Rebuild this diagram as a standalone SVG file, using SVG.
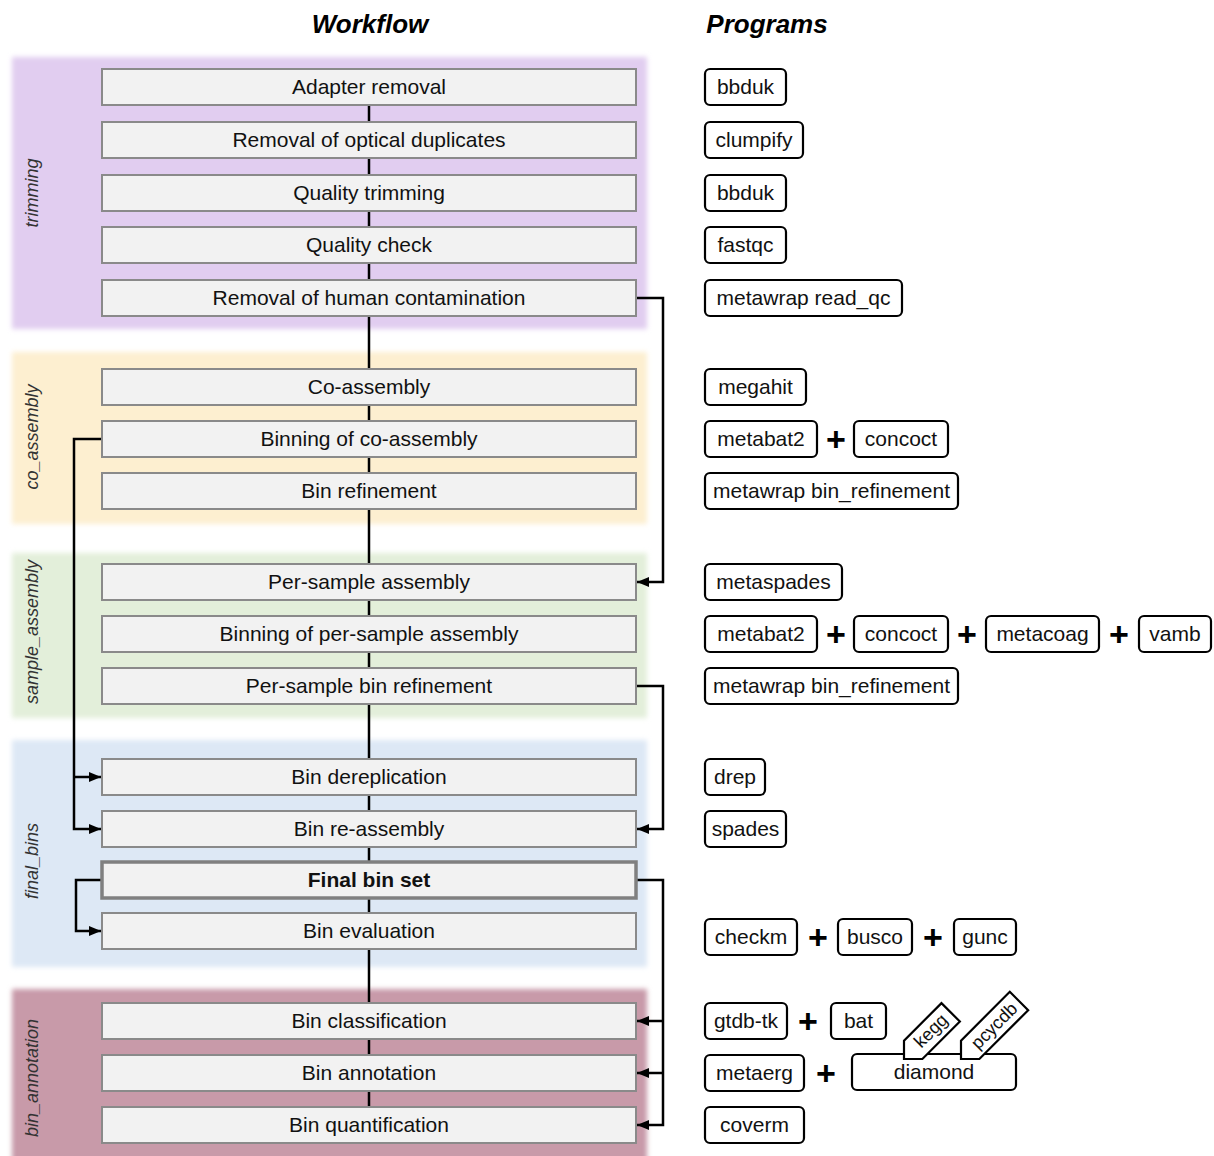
<svg xmlns="http://www.w3.org/2000/svg" width="1214" height="1156" viewBox="0 0 1214 1156">
<style>
.title{font-family:"Liberation Sans",Arial,sans-serif;font-size:26px;font-weight:bold;font-style:italic;fill:#000}
.band-label{font-family:"Liberation Sans",Arial,sans-serif;font-size:18px;font-style:italic;fill:#333;text-anchor:middle}
.step rect{fill:#f2f2f2;stroke:#8a8a8a;stroke-width:2}
.step text{font-family:"Liberation Sans",Arial,sans-serif;font-size:21px;fill:#111;text-anchor:middle}
.final rect{stroke:#808080;stroke-width:3.5}
.final text{font-weight:bold}
.prog rect,.tag path{fill:#fff;stroke:#000;stroke-width:2.2}
.prog text,.tag text{font-family:"Liberation Sans",Arial,sans-serif;font-size:21px;fill:#111;text-anchor:middle}
.tag text{font-size:18px}
.plus{font-family:"Liberation Sans",Arial,sans-serif;font-size:34px;font-weight:bold;fill:#000;text-anchor:middle}
.conn{fill:none;stroke:#000;stroke-width:2.5}
</style>
<defs>
<filter id="soft" x="-5%" y="-5%" width="110%" height="110%"><feGaussianBlur stdDeviation="2.5"/></filter>
<marker id="arr" markerUnits="userSpaceOnUse" markerWidth="13" markerHeight="11" refX="12" refY="5" orient="auto"><path d="M0,0 L12,5 L0,10 Z" fill="#000"/></marker>
</defs>
<rect width="1214" height="1156" fill="#fff"/>
<text class="title" x="370" y="33" text-anchor="middle">Workflow</text>
<text class="title" x="767" y="33" text-anchor="middle">Programs</text>
<g id="bands" filter="url(#soft)">
<rect x="12" y="57" width="635" height="272" fill="#e1cdf0"/>
<rect x="12" y="352" width="635" height="172" fill="#fdefd0"/>
<rect x="12" y="553" width="635" height="165" fill="#e3efda"/>
<rect x="12" y="740" width="635" height="227" fill="#dde8f5"/>
<rect x="12" y="989" width="635" height="175" fill="#c89aa9"/>
</g>
<g id="band-labels">
<text class="band-label" transform="translate(38,193) rotate(-90)">trimming</text>
<text class="band-label" transform="translate(38,437) rotate(-90)">co_assembly</text>
<text class="band-label" transform="translate(38,632) rotate(-90)">sample_assembly</text>
<text class="band-label" transform="translate(38,861) rotate(-90)">final_bins</text>
<text class="band-label" transform="translate(38,1078) rotate(-90)">bin_annotation</text>
</g>
<g id="connectors">
<path class="conn" d="M369,87 V1125"/>
<path class="conn" d="M636,298 H663 V582 H637" marker-end="url(#arr)"/>
<path class="conn" d="M102,439 H74 V829 H101" marker-end="url(#arr)"/>
<path class="conn" d="M74,777 H101" marker-end="url(#arr)"/>
<path class="conn" d="M636,686 H663 V829 H637" marker-end="url(#arr)"/>
<path class="conn" d="M102,880 H76 V931 H101" marker-end="url(#arr)"/>
<path class="conn" d="M636,880 H663 V1125 H637" marker-end="url(#arr)"/>
<path class="conn" d="M663,1021 H637" marker-end="url(#arr)"/>
<path class="conn" d="M663,1073 H637" marker-end="url(#arr)"/>
</g>
<g id="step-adapter" class="step"><rect x="102" y="69" width="534" height="36"/><text x="369" y="94">Adapter removal</text></g>
<g id="step-optical" class="step"><rect x="102" y="122" width="534" height="36"/><text x="369" y="147">Removal of optical duplicates</text></g>
<g id="step-qtrim" class="step"><rect x="102" y="175" width="534" height="36"/><text x="369" y="200">Quality trimming</text></g>
<g id="step-qcheck" class="step"><rect x="102" y="227" width="534" height="36"/><text x="369" y="252">Quality check</text></g>
<g id="step-human" class="step"><rect x="102" y="280" width="534" height="36"/><text x="369" y="305">Removal of human contamination</text></g>
<g id="step-coasm" class="step"><rect x="102" y="369" width="534" height="36"/><text x="369" y="394">Co-assembly</text></g>
<g id="step-cobin" class="step"><rect x="102" y="421" width="534" height="36"/><text x="369" y="446">Binning of co-assembly</text></g>
<g id="step-corefine" class="step"><rect x="102" y="473" width="534" height="36"/><text x="369" y="498">Bin refinement</text></g>
<g id="step-psasm" class="step"><rect x="102" y="564" width="534" height="36"/><text x="369" y="589">Per-sample assembly</text></g>
<g id="step-psbin" class="step"><rect x="102" y="616" width="534" height="36"/><text x="369" y="641">Binning of per-sample assembly</text></g>
<g id="step-psrefine" class="step"><rect x="102" y="668" width="534" height="36"/><text x="369" y="693">Per-sample bin refinement</text></g>
<g id="step-derep" class="step"><rect x="102" y="759" width="534" height="36"/><text x="369" y="784">Bin dereplication</text></g>
<g id="step-reasm" class="step"><rect x="102" y="811" width="534" height="36"/><text x="369" y="836">Bin re-assembly</text></g>
<g id="step-final" class="step final"><rect x="102" y="862" width="534" height="36"/><text x="369" y="887">Final bin set</text></g>
<g id="step-eval" class="step"><rect x="102" y="913" width="534" height="36"/><text x="369" y="938">Bin evaluation</text></g>
<g id="step-class" class="step"><rect x="102" y="1003" width="534" height="36"/><text x="369" y="1028">Bin classification</text></g>
<g id="step-annot" class="step"><rect x="102" y="1055" width="534" height="36"/><text x="369" y="1080">Bin annotation</text></g>
<g id="step-quant" class="step"><rect x="102" y="1107" width="534" height="36"/><text x="369" y="1132">Bin quantification</text></g>

<g id="prog-bbduk1" class="prog"><rect x="705" y="69" width="81" height="36" rx="5"/><text x="745.5" y="94">bbduk</text></g>
<g id="prog-clumpify" class="prog"><rect x="705" y="122" width="98" height="36" rx="5"/><text x="754" y="147">clumpify</text></g>
<g id="prog-bbduk2" class="prog"><rect x="705" y="175" width="81" height="36" rx="5"/><text x="745.5" y="200">bbduk</text></g>
<g id="prog-fastqc" class="prog"><rect x="705" y="227" width="81" height="36" rx="5"/><text x="745.5" y="252">fastqc</text></g>
<g id="prog-readqc" class="prog"><rect x="705" y="280" width="197" height="36" rx="5"/><text x="803.5" y="305">metawrap read_qc</text></g>
<g id="prog-megahit" class="prog"><rect x="705" y="369" width="101" height="36" rx="5"/><text x="755.5" y="394">megahit</text></g>
<g id="prog-metabat2a" class="prog"><rect x="705" y="421" width="112" height="36" rx="5"/><text x="761" y="446">metabat2</text></g>
<text class="plus" x="836" y="451">+</text>
<g id="prog-concocta" class="prog"><rect x="854" y="421" width="94" height="36" rx="5"/><text x="901" y="446">concoct</text></g>
<g id="prog-binrefa" class="prog"><rect x="705" y="473" width="253" height="36" rx="5"/><text x="831.5" y="498">metawrap bin_refinement</text></g>
<g id="prog-metaspades" class="prog"><rect x="705" y="564" width="137" height="36" rx="5"/><text x="773.5" y="589">metaspades</text></g>
<g id="prog-metabat2b" class="prog"><rect x="705" y="616" width="112" height="36" rx="5"/><text x="761" y="641">metabat2</text></g>
<text class="plus" x="836" y="646">+</text>
<g id="prog-concoctb" class="prog"><rect x="854" y="616" width="94" height="36" rx="5"/><text x="901" y="641">concoct</text></g>
<text class="plus" x="967" y="646">+</text>
<g id="prog-metacoag" class="prog"><rect x="986" y="616" width="113" height="36" rx="5"/><text x="1042.5" y="641">metacoag</text></g>
<text class="plus" x="1119" y="646">+</text>
<g id="prog-vamb" class="prog"><rect x="1139" y="616" width="72" height="36" rx="5"/><text x="1175" y="641">vamb</text></g>
<g id="prog-binrefb" class="prog"><rect x="705" y="668" width="253" height="36" rx="5"/><text x="831.5" y="693">metawrap bin_refinement</text></g>
<g id="prog-drep" class="prog"><rect x="705" y="759" width="60" height="36" rx="5"/><text x="735" y="784">drep</text></g>
<g id="prog-spades" class="prog"><rect x="705" y="811" width="81" height="36" rx="5"/><text x="745.5" y="836">spades</text></g>
<g id="prog-checkm" class="prog"><rect x="705" y="919" width="92" height="36" rx="5"/><text x="751" y="944">checkm</text></g>
<text class="plus" x="818" y="949">+</text>
<g id="prog-busco" class="prog"><rect x="838" y="919" width="74" height="36" rx="5"/><text x="875" y="944">busco</text></g>
<text class="plus" x="933" y="949">+</text>
<g id="prog-gunc" class="prog"><rect x="954" y="919" width="62" height="36" rx="5"/><text x="985" y="944">gunc</text></g>
<g id="prog-gtdbtk" class="prog"><rect x="705" y="1003" width="82" height="36" rx="5"/><text x="746" y="1028">gtdb-tk</text></g>
<text class="plus" x="808" y="1033">+</text>
<g id="prog-bat" class="prog"><rect x="831" y="1003" width="55" height="36" rx="5"/><text x="858.5" y="1028">bat</text></g>
<g id="prog-metaerg" class="prog"><rect x="705" y="1055" width="99" height="36" rx="5"/><text x="754.5" y="1080">metaerg</text></g>
<text class="plus" x="826" y="1085">+</text>
<g id="prog-diamond" class="prog"><rect x="852" y="1054" width="164" height="36" rx="5"/><text x="934" y="1079">diamond</text></g>
<g id="tag-kegg" class="tag" transform="translate(904,1059) rotate(-45)"><path d="M0,0 L13,-13 L66,-13 L66,13 L13,13 Z"/><text x="39" y="5">kegg</text></g>
<g id="tag-pcycdb" class="tag" transform="translate(961,1059) rotate(-45)"><path d="M0,0 L13,-13 L82,-13 L82,13 L13,13 Z"/><text x="47" y="6">pcycdb</text></g>
<g id="prog-coverm" class="prog"><rect x="705" y="1107" width="99" height="36" rx="5"/><text x="754.5" y="1132">coverm</text></g>
</svg>
